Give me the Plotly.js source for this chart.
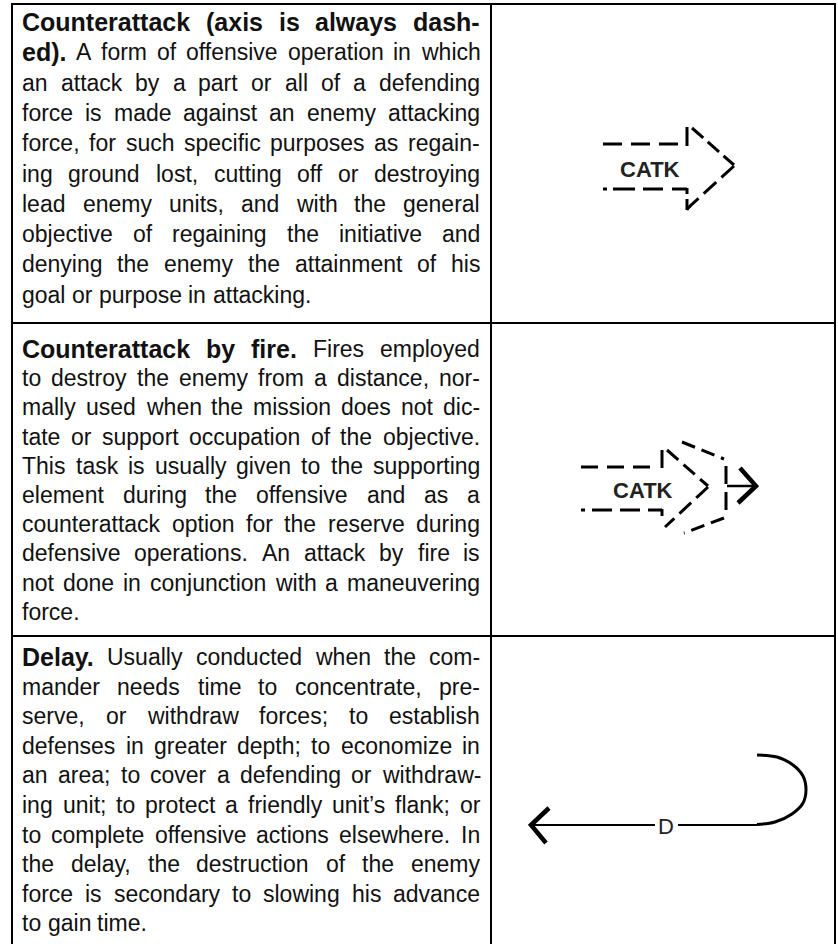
<!DOCTYPE html>
<html>
<head>
<meta charset="utf-8">
<script src="https://cdn.plot.ly/plotly-3.0.1.min.js"></script>
<style>html,body{margin:0;padding:0;background:#fff;}#chart{width:838px;height:944px;}</style>
</head>
<body>
<div id="chart"></div>
<script>
// ---------------- DATA ----------------
const rowTerms = ["Counterattack (axis is always dashed).", "Counterattack by fire.", "Delay."];
const row1Lines = [
  "<b>Counterattack (axis is always dash-</b>",
  "<b>ed).</b> A form of offensive operation in which",
  "an attack by a part or all of a defending",
  "force is made against an enemy attacking",
  "force, for such specific purposes as regain-",
  "ing ground lost, cutting off or destroying",
  "lead enemy units, and with the general",
  "objective of regaining the initiative and",
  "denying the enemy the attainment of his",
  "goal or purpose in attacking."
];
const row2Lines = [
  "<b>Counterattack by fire.</b> Fires employed",
  "to destroy the enemy from a distance, nor-",
  "mally used when the mission does not dic-",
  "tate or support occupation of the objective.",
  "This task is usually given to the supporting",
  "element during the offensive and as a",
  "counterattack option for the reserve during",
  "defensive operations. An attack by fire is",
  "not done in conjunction with a maneuvering",
  "force."
];
const row3Lines = [
  "<b>Delay.</b> Usually conducted when the com-",
  "mander needs time to concentrate, pre-",
  "serve, or withdraw forces; to establish",
  "defenses in greater depth; to economize in",
  "an area; to cover a defending or withdraw-",
  "ing unit; to protect a friendly unit\u2019s flank; or",
  "to complete offensive actions elsewhere. In",
  "the delay, the destruction of the enemy",
  "force is secondary to slowing his advance",
  "to gain time."
];
const symbolLabels = ["CATK", "CATK", "D"];

// ---------------- LAYOUT CONSTANTS ----------------
const W = 838, H = 944;
const FONT = "Liberation Sans, Arial, sans-serif";
const BODY_SIZE = 23;
const BOLD_SIZE = 25;
const TEXT_LEFT = 22, TEXT_RIGHT = 480;
const rowFirstY = [22, 349, 657];
const rowSpacing = [30.3, 29.2, 29.6];
const INK = "#111";

const ctx = document.createElement("canvas").getContext("2d");
function measure(t, bold) {
  ctx.font = (bold ? "bold " + BOLD_SIZE : BODY_SIZE) + "px 'Liberation Sans'";
  return ctx.measureText(t).width;
}

const annotations = [];
function layoutLine(line, y, isLast) {
  let bold = false;
  const words = line.split(" ").map(tok => {
    let t = tok, b = bold;
    if (t.startsWith("<b>")) { t = t.slice(3); b = true; bold = true; }
    if (t.endsWith("</b>")) { t = t.slice(0, -4); bold = false; }
    return { t, b, w: measure(t, b) };
  });
  const total = words.reduce((s, w) => s + w.w, 0);
  const gap = (isLast || words.length < 2) ? measure(" ", false)
    : (TEXT_RIGHT - TEXT_LEFT - total) / (words.length - 1);
  let x = TEXT_LEFT;
  words.forEach(w => {
    annotations.push({
      x: x, y: y, xref: "x", yref: "y", xanchor: "left", yanchor: "middle",
      text: w.b ? "<b>" + w.t + "</b>" : w.t, showarrow: false,
      borderpad: 0, borderwidth: 0,
      font: { family: FONT, size: w.b ? BOLD_SIZE : BODY_SIZE, color: INK }
    });
    x += w.w + gap;
  });
}
[row1Lines, row2Lines, row3Lines].forEach((lines, r) => {
  lines.forEach((ln, i) => layoutLine(ln, rowFirstY[r] + i * rowSpacing[r], i === lines.length - 1));
});

// ---------------- GEOMETRY ----------------
const traces = [];
function seg(xs, ys, width, dash, color) {
  traces.push({
    type: "scatter", mode: "lines", x: xs, y: ys, hoverinfo: "skip", showlegend: false,
    line: { color: color || "#000", width: width, dash: dash || "solid", shape: "linear" }
  });
}
function curve(xs, ys, width) {
  traces.push({
    type: "scatter", mode: "lines", x: xs, y: ys, hoverinfo: "skip", showlegend: false,
    line: { color: "#000", width: width, shape: "spline", smoothing: 1 }
  });
}

// table grid
const TOP = 4, LEFT = 12, MID = 491, RIGHT = 835, ROW1 = 323, ROW2 = 636;
seg([LEFT - 1, RIGHT + 1], [TOP, TOP], 2);
seg([LEFT, LEFT], [TOP, H + 5], 2);
seg([MID, MID], [TOP, H + 5], 2);
seg([RIGHT, RIGHT], [TOP, H + 5], 2);
seg([LEFT, RIGHT], [ROW1, ROW1], 2);
seg([LEFT, RIGHT], [ROW2, ROW2], 2);

// symbol 1: counterattack
seg([603, 678], [144, 144], 3, "19px,9px");
seg([687, 687], [127, 146], 3);
seg([692, 734], [128, 165], 3, "15px,6px");
seg([734, 689], [166, 207], 3, "17px,7px");
seg([687, 687], [199, 210], 3);
seg([687, 692], [210, 204], 2.5);
seg([603, 687], [189, 189], 3, "4px,6px,22px,8px,20px,9px,20px,10px");
seg([687, 687], [188, 194], 3);

// symbol 2: counterattack by fire
seg([581, 653], [467, 467], 3, "17px,9px");
seg([662, 662], [450, 468], 3);
seg([667, 708], [450, 486], 3, "15px,7px");
seg([708, 665], [487, 527], 3, "16px,7px");
seg([581, 662], [510, 510], 3, "4px,7px,20px,8px,20px,8px,15px,10px");
seg([662, 662], [509, 516], 3);
seg([682, 724], [442, 459], 3, "14px,7px");
seg([726, 726], [466, 514], 3, "18px,8px");
seg([724, 684], [518, 533], 3, "14px,7px");
seg([727, 755], [486, 486], 2.5);
seg([740, 756, 738], [468, 486, 503], 4.5);

// symbol 3: delay
seg([530, 655], [825, 825], 2);
seg([678, 757], [825, 825], 2);
curve([757, 775, 792, 803, 806, 803, 793, 777, 757], [824.5, 822, 814, 803, 790, 776, 765, 757, 755], 3);
seg([549, 531, 546], [808, 825, 843], 4.5);

// symbol labels
const labelPos = [[650, 169, 22, true], [643, 490, 22, true], [666, 826, 22, false]];
symbolLabels.forEach((s, i) => {
  const p = labelPos[i];
  annotations.push({
    x: p[0], y: p[1], xref: "x", yref: "y", xanchor: "center", yanchor: "middle",
    text: p[3] ? "<b>" + s + "</b>" : s, showarrow: false, borderpad: 0,
    font: { family: FONT, size: p[2], color: "#222" }
  });
});

const layout = {
  width: W, height: H, margin: { l: 0, r: 0, t: 0, b: 0, pad: 0 },
  paper_bgcolor: "#fff", plot_bgcolor: "#fff", showlegend: false,
  xaxis: { range: [0, W], visible: false, fixedrange: true },
  yaxis: { range: [H, 0], visible: false, fixedrange: true },
  annotations: annotations
};
Plotly.newPlot("chart", traces, layout, { staticPlot: true, displayModeBar: false });
</script>
</body>
</html>
